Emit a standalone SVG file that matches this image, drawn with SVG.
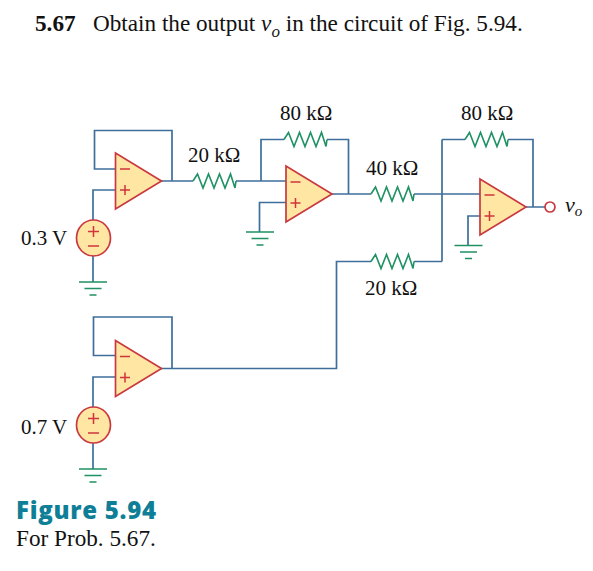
<svg xmlns="http://www.w3.org/2000/svg" width="593" height="571" viewBox="0 0 593 571">
<style>
.w{fill:none;stroke:#3e6f9c;stroke-width:1.700}
.r{fill:none;stroke:#1f9163;stroke-width:1.600;stroke-linejoin:miter}
.g{fill:none;stroke:#1f9163;stroke-width:1.700}
.o{fill:#ffe6a3;stroke:#c9393f;stroke-width:1.700}
.s{fill:none;stroke:#d0343c;stroke-width:1.500}
.t{font-family:"Liberation Serif",serif;font-size:21px;fill:#111}
</style>
<defs>
<path id="res" class="r" d="M0 0L4.500-7L10 7L15.500-7L21 7L26.500-7L32 7L37.500-7L42 7L43 0"/>
<g id="gnd"><path class="g" d="M-14 0H14M-8.500 6.500H8.500M-3.500 13H3.500"/></g>
<g id="amp"><path class="o" d="M0 0V56L46 28Z"/><path class="s" d="M4.500 16H14.500M4.500 37H14.500M9.500 32V42"/></g>
<g id="src"><ellipse class="o" cx="0" cy="0" rx="17" ry="18"/><path class="s" d="M-5.500-6.500H5.500M0-12V-1M-5.500 8H5.500"/></g>
</defs>
<rect width="593" height="571" fill="#fff"/>
<g id="connectors">
<path class="w" d="M115 169H94.500V130.500H172V181M161 181H193M236 181H286M261 181V139.500H284M327 139.500H348.500V194M332 194H371M414 194H480M442 139.500V261.500M442 139.500H465M508 139.500H533V207M526 207H545M414 261.500H442M371 261.500H336.500V368.500H161M115 190H93V220M93 256V282M286 202.500H259.500V232M480 216H468V245.500M115 355.500H93.500V317H172V368.500M115 377H93V407M93 443V469"/>
</g>
<g id="opamp1"><use href="#amp" x="115.500" y="153"/></g>
<g id="opamp2"><use href="#amp" x="286" y="166"/></g>
<g id="opamp3"><use href="#amp" x="480" y="179"/></g>
<g id="opamp4"><use href="#amp" x="115.500" y="340.500"/></g>
<g id="source1"><use href="#src" x="93.500" y="238"/><text class="t" x="21" y="245">0.3 V</text></g>
<g id="source2"><use href="#src" x="93.500" y="425"/><text class="t" x="21" y="434">0.7 V</text></g>
<g id="r1"><use href="#res" x="193" y="181"/><text class="t" x="188" y="162">20 kΩ</text></g>
<g id="r2"><use href="#res" x="284" y="139.500"/><text class="t" x="280" y="120">80 kΩ</text></g>
<g id="r3"><use href="#res" x="371" y="194"/><text class="t" x="366" y="175">40 kΩ</text></g>
<g id="r4"><use href="#res" x="465" y="139.500"/><text class="t" x="461" y="120">80 kΩ</text></g>
<g id="r5"><use href="#res" x="371" y="261.500"/><text class="t" x="365" y="295">20 kΩ</text></g>
<g id="gnd1"><use href="#gnd" x="93" y="282"/></g>
<g id="gnd2"><use href="#gnd" x="260" y="232"/></g>
<g id="gnd3"><use href="#gnd" x="468.500" y="245.500"/></g>
<g id="gnd4"><use href="#gnd" x="93" y="469"/></g>
<g id="output"><circle cx="550" cy="207" r="5" fill="#fff" stroke="#c9393f" stroke-width="1.700"/><text x="565" y="212" font-family="Liberation Serif,serif" font-style="italic" font-size="22" fill="#111">v<tspan font-size="15" dy="4">o</tspan></text></g>
<g id="caption">
<text x="35" y="31" font-family="Liberation Serif,serif" font-size="23.200" fill="#111"><tspan font-weight="bold">5.67</tspan><tspan x="93">Obtain the output </tspan><tspan font-style="italic">v</tspan><tspan font-style="italic" font-size="17" dy="6">o</tspan><tspan dy="-6"> in the circuit of Fig. 5.94.</tspan></text>
<text x="16" y="519" font-family="Open Sans,sans-serif" font-weight="800" font-size="24" fill="#0f7f97" textLength="140">Figure 5.94</text>
<text x="16" y="546" font-family="Liberation Serif,serif" font-size="23.200" fill="#111">For Prob. 5.67.</text>
</g>
</svg>
